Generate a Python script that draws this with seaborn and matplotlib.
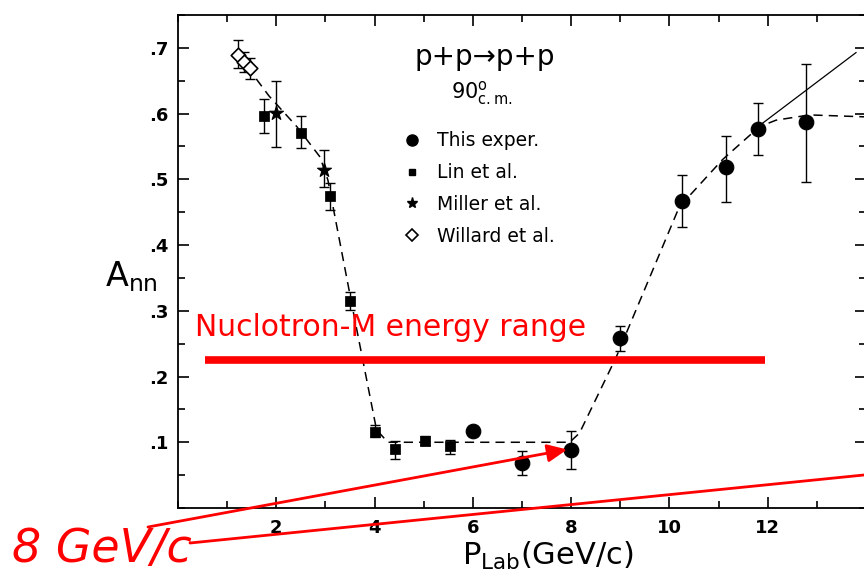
import numpy as np
import pandas as pd
import matplotlib
matplotlib.use("Agg")
import matplotlib.pyplot as plt
from matplotlib.lines import Line2D
from matplotlib.ticker import MultipleLocator, FuncFormatter
import seaborn as sns

# ---- data: A_nn of p+p -> p+p at 90 deg c.m. versus P_lab (GeV/c) ----
# This experiment
this_p = [6.0, 7.0, 8.0, 9.0, 10.25, 11.15, 11.8, 12.77]
this_a = [0.117, 0.068, 0.088, 0.259, 0.467, 0.519, 0.577, 0.587]
this_lo = [0.110, 0.050, 0.059, 0.239, 0.428, 0.466, 0.537, 0.496]
this_hi = [0.124, 0.087, 0.117, 0.277, 0.507, 0.566, 0.616, 0.675]

# Lin et al.
lin_p = [1.74, 2.51, 3.10, 3.51, 4.01, 4.42, 5.03, 5.54]
lin_a = [0.596, 0.571, 0.475, 0.315, 0.116, 0.090, 0.102, 0.094]
lin_lo = [0.571, 0.548, 0.453, 0.301, 0.108, 0.075, 0.096, 0.082]
lin_hi = [0.622, 0.596, 0.494, 0.329, 0.126, 0.102, 0.110, 0.103]

# Miller et al.
mil_p = [2.00, 2.98]
mil_a = [0.601, 0.514]
mil_lo = [0.549, 0.488]
mil_hi = [0.650, 0.545]

# Willard et al.
wil_p = [1.22, 1.34, 1.46]
wil_a = [0.689, 0.679, 0.669]
wil_lo = [0.669, 0.664, 0.652]
wil_hi = [0.712, 0.694, 0.684]

# guide-to-the-eye curves
curve_p = [1.22, 1.85, 2.42, 2.89, 3.05, 3.56, 4.04, 4.27, 7.97, 8.17,
           8.92, 10.20, 11.08, 11.83, 12.17, 12.85, 14.0]
curve_a = [0.690, 0.627, 0.580, 0.534, 0.499, 0.301, 0.119, 0.100, 0.100,
           0.114, 0.230, 0.458, 0.530, 0.580, 0.590, 0.598, 0.595]
line_p = [11.80, 13.80]
line_a = [0.580, 0.693]

# Nuclotron-M momentum range
range_p = [0.55, 11.95]
range_a = [0.225, 0.225]

x_ticks = [2, 4, 6, 8, 10, 12]
y_ticks = [0.1, 0.2, 0.3, 0.4, 0.5, 0.6, 0.7]

sns.set_theme(style="ticks")
plt.rcParams["font.family"] = ["DejaVu Sans"]
plt.rcParams["text.color"] = "black"

W, H = 864, 580
fig = plt.figure(figsize=(W / 100, H / 100), dpi=100)
ax = fig.add_axes([178 / W, 72 / H, 688 / W, 493 / H])
ax.set_xlim(0, 14)
ax.set_ylim(0, 0.75)

# dashed curve and thin solid extrapolation
sns.lineplot(x=curve_p, y=curve_a, ax=ax, color="black", lw=1.1,
             linestyle=(0, (6, 4)), sort=False, estimator=None)
sns.lineplot(x=line_p, y=line_a, ax=ax, color="black", lw=0.9,
             sort=False, estimator=None)


def errs(a, lo, hi):
    a, lo, hi = map(np.asarray, (a, lo, hi))
    return np.vstack([a - lo, hi - a])


eb = dict(fmt="none", ecolor="black", elinewidth=1.0, capsize=3.5,
          capthick=1.0, zorder=3)
ax.errorbar(this_p, this_a, yerr=errs(this_a, this_lo, this_hi), **eb)
ax.errorbar(lin_p, lin_a, yerr=errs(lin_a, lin_lo, lin_hi), **eb)
ax.errorbar(mil_p, mil_a, yerr=errs(mil_a, mil_lo, mil_hi), **eb)
ax.errorbar(wil_p, wil_a, yerr=errs(wil_a, wil_lo, wil_hi), **eb)

sns.scatterplot(x=this_p, y=this_a, ax=ax, marker="o", s=110,
                color="black", edgecolor="black", zorder=4, legend=False)
sns.scatterplot(x=lin_p, y=lin_a, ax=ax, marker="s", s=45,
                color="black", edgecolor="black", zorder=4, legend=False)
sns.scatterplot(x=mil_p, y=mil_a, ax=ax, marker="*", s=110,
                color="black", edgecolor="black", zorder=4, legend=False)
sns.scatterplot(x=wil_p, y=wil_a, ax=ax, marker="D", s=55,
                color="white", edgecolor="black", linewidth=1.2,
                zorder=4, legend=False)

# axes styling
for side in ["left", "right", "top", "bottom"]:
    ax.spines[side].set_visible(True)
    ax.spines[side].set_linewidth(1.3)
    ax.spines[side].set_color("black")
ax.set_xticks(x_ticks)
ax.set_yticks(y_ticks)
ax.xaxis.set_minor_locator(MultipleLocator(1))
ax.yaxis.set_minor_locator(MultipleLocator(0.05))
ax.tick_params(which="both", direction="in", top=True, right=True,
               color="black", width=1.2)
ax.tick_params(which="major", length=8)
ax.tick_params(which="minor", length=5)
ax.tick_params(axis="x", pad=8)
ax.tick_params(axis="y", pad=7)
ax.yaxis.set_major_formatter(
    FuncFormatter(lambda v, _: f"{v:.1f}".lstrip("0")))
for lab in ax.get_xticklabels() + ax.get_yticklabels():
    lab.set_fontweight("bold")
    lab.set_fontsize(13)
    lab.set_color("black")

ax.set_xlabel(r"P$_{\rm Lab}$(GeV/c)", fontsize=22, color="black")
ax.xaxis.set_label_coords(0.537, -0.065)
ax.set_ylabel(r"A$_{\rm nn}$", fontsize=24, rotation=0, color="black",
              va="center", ha="center")
ax.yaxis.set_label_coords(-0.068, 0.47)

# reaction label
ax.text(0.446, 0.915, "p+p\u2192p+p", transform=ax.transAxes, fontsize=20,
        ha="center", va="center", color="black")
ax.text(0.442, 0.842, r"90$^{\rm o}_{\rm c.m.}$", transform=ax.transAxes,
        fontsize=15, ha="center", va="center", color="black")

# legend
handles = [
    Line2D([], [], ls="none", marker="o", ms=8, color="black"),
    Line2D([], [], ls="none", marker="s", ms=5, color="black"),
    Line2D([], [], ls="none", marker="*", ms=8, color="black"),
    Line2D([], [], ls="none", marker="D", ms=6, mfc="white",
           mec="black", mew=1.2),
]
labels = ["This exper.", "Lin et al.", "Miller et al.", "Willard et al."]
leg = ax.legend(handles, labels, loc="upper left",
                bbox_to_anchor=(0.327, 0.764), frameon=False, fontsize=13.5,
                handlelength=1.0, handletextpad=0.8, borderpad=0,
                borderaxespad=0, labelspacing=0.68)
for t in leg.get_texts():
    t.set_color("black")

# Nuclotron-M range overlay
ax.plot(range_p, range_a, color="red", lw=5.5, solid_capstyle="butt",
        zorder=5)
ax.text(0.35, 0.274, "Nuclotron-M energy range", color="red", fontsize=21.5,
        ha="left", va="center", zorder=6)

# 8 GeV/c pointer lines
fig.text(12 / W, 1 - 550 / H, "8 GeV/c", color="red", fontsize=33,
         style="italic", ha="left", va="center")
ax.annotate("", xy=(7.92, 0.089), xycoords="data",
            xytext=(148 / W, 1 - 527 / H), textcoords="figure fraction",
            arrowprops=dict(arrowstyle="-|>,head_length=1.0,head_width=0.45",
                            color="red", lw=2.0, shrinkA=0, shrinkB=0),
            annotation_clip=False, zorder=6)
fig.add_artist(Line2D([190 / W, 1.0], [1 - 543 / H, 1 - 475 / H],
                      transform=fig.transFigure, color="red", lw=2.0))

fig.savefig("out.png", dpi=100)
